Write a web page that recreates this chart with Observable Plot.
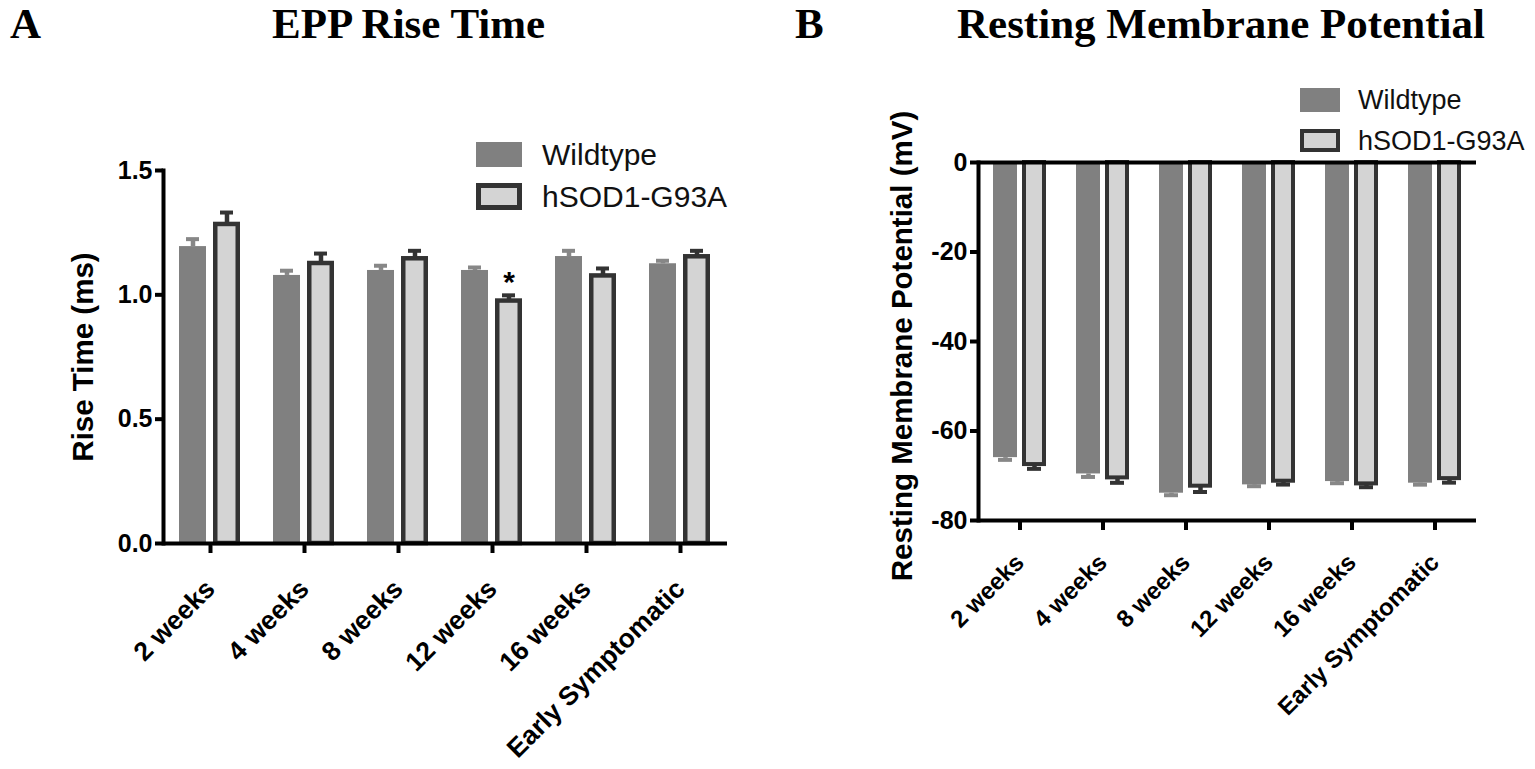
<!DOCTYPE html>
<html>
<head>
<meta charset="utf-8">
<script src="https://cdn.jsdelivr.net/npm/d3@7"></script>
<script src="https://cdn.jsdelivr.net/npm/@observablehq/plot@0.6"></script>
<style>
  html, body { margin: 0; padding: 0; background: #fff; }
  #root { position: relative; width: 1535px; height: 769px; overflow: hidden; background: #fff; }
  .abs { position: absolute; white-space: nowrap; }
  .title { font-family: "Liberation Serif", "Times New Roman", serif; font-weight: bold; font-size: 43px; line-height: 48px; color: #000; }
  .ylab { font-family: "Liberation Sans", Arial, sans-serif; font-weight: bold; font-size: 29.5px; line-height: 34px; color: #000; transform: translate(-50%, -50%) rotate(-90deg); }
  .leg { font-family: "Liberation Sans", Arial, sans-serif; color: #111; display: flex; align-items: center; }
  .sw { box-sizing: border-box; flex: none; }
  .panel { position: absolute; top: 60px; }
</style>
</head>
<body>
<div id="root"></div>
<script>
// ---------------- data ----------------
const categories = ["2 weeks", "4 weeks", "8 weeks", "12 weeks", "16 weeks", "Early Symptomatic"];
const groups = ["Wildtype", "hSOD1-G93A"];

// Panel A: EPP rise time (ms), mean and SEM
const riseWT    = [1.194, 1.078, 1.098, 1.098, 1.154, 1.125];
const riseWTsem = [0.030, 0.019, 0.019, 0.012, 0.023, 0.012];
const riseHS    = [1.283, 1.126, 1.145, 0.975, 1.076, 1.153];
const riseHSsem = [0.048, 0.040, 0.032, 0.023, 0.030, 0.024];
const riseSig   = ["", "", "", "*", "", ""];
const riseTicks = [0, 0.5, 1.0, 1.5];

// Panel B: resting membrane potential (mV), mean and SEM
const rmpWT    = [-65.95, -69.6, -73.9, -72.04, -71.3, -71.66];
const rmpWTsem = [0.5, 0.67, 0.45, 0.3, 0.37, 0.33];
const rmpHS    = [-67.5, -70.48, -72.33, -71.22, -71.82, -70.64];
const rmpHSsem = [0.96, 1.1, 1.3, 0.75, 0.74, 0.9];
const rmpTicks = [0, -20, -40, -60, -80];

// ---------------- helpers ----------------
const WT_FILL = "#808080", WT_ERR = "#878787", HS_FILL = "#d4d4d4", HS_STROKE = "#333333";

function rows(means, sems, group, dir, sig) {
  return categories.map((cat, i) => ({
    cat, group, mean: means[i], sem: sems[i],
    end: means[i] + dir * sems[i],
    sig: sig ? sig[i] : ""
  }));
}

function panel(cfg) {
  const wt = rows(cfg.wt, cfg.wtSem, groups[0], cfg.dir);
  const hs = rows(cfg.hs, cfg.hsSem, groups[1], cfg.dir, cfg.sig);
  const f = {fx: "cat", x: "group"};
  const marks = [
    Plot.ruleX(wt, {...f, y1: "mean", y2: "end", stroke: WT_ERR, strokeWidth: 4.5}),
    Plot.tickY(wt, {...f, y: "end", stroke: WT_ERR, strokeWidth: 4, insetLeft: cfg.capInset, insetRight: cfg.capInset}),
    Plot.barY(wt, {...f, y: "mean", fill: WT_FILL}),
    Plot.ruleX(hs, {...f, y1: "mean", y2: "end", stroke: HS_STROKE, strokeWidth: 4.5}),
    Plot.tickY(hs, {...f, y: "end", stroke: HS_STROKE, strokeWidth: 4, insetLeft: cfg.capInset, insetRight: cfg.capInset}),
    Plot.barY(hs, {...f, y: "mean", fill: HS_FILL, stroke: HS_STROKE, strokeWidth: cfg.hsStroke,
      insetLeft: cfg.hsStroke / 2, insetRight: cfg.hsStroke / 2}),
    Plot.text(hs.filter(d => d.sig), {...f, y: "end", text: "sig", lineAnchor: "bottom", dy: -3, fontSize: 30, fill: "#000"}),
    ...cfg.lines.map(v => Plot.ruleY([v], {stroke: "#000", strokeWidth: 4})),
    Plot.frame({anchor: "left", stroke: "#000", strokeWidth: 4, strokeLinecap: "square", facetAnchor: "left"}),
    Plot.axisY({ticks: cfg.ticks, tickFormat: cfg.tickFormat, tickSize: 8, tickPadding: 3, strokeWidth: 4, label: null, fontSize: 25, fontWeight: "bold"}),
    Plot.axisFx({anchor: "bottom", tickSize: 10, tickPadding: cfg.labelPad, strokeWidth: 4, tickRotate: -45, label: null, fontSize: cfg.labelSize, fontWeight: "bold"})
  ];
  return Plot.plot({
    width: cfg.width, height: cfg.height,
    marginLeft: cfg.ml, marginRight: cfg.mr, marginTop: cfg.mt, marginBottom: cfg.mb,
    fx: {domain: categories, padding: 0, label: null},
    x: {domain: groups, paddingInner: cfg.pIn, paddingOuter: cfg.pOut, axis: null},
    y: {domain: cfg.domain, axis: null},
    style: {fontFamily: "'Liberation Sans', Arial, sans-serif", fontWeight: "bold", fontSize: "24px", color: "#000", background: "transparent", overflow: "visible"},
    marks
  });
}

const root = document.getElementById("root");
function addDiv(cls, text, css) {
  const d = document.createElement("div");
  d.className = "abs " + cls;
  d.textContent = text;
  Object.assign(d.style, css);
  root.appendChild(d);
  return d;
}
function legendRow(x, cy, h, w, sh, border, fontSize, gap, label, fill) {
  const row = document.createElement("div");
  row.className = "abs leg";
  Object.assign(row.style, {left: x + "px", top: (cy - h / 2) + "px", height: h + "px", fontSize: fontSize + "px", lineHeight: h + "px"});
  const sw = document.createElement("div");
  sw.className = "sw";
  Object.assign(sw.style, {width: w + "px", height: sh + "px", background: fill, border: border, marginRight: gap + "px"});
  const t = document.createElement("span");
  t.textContent = label;
  row.appendChild(sw); row.appendChild(t);
  root.appendChild(row);
}

// ---------------- Panel A ----------------
const svgA = panel({
  width: 760, height: 709, ml: 163, mr: 33, mt: 110, mb: 226,
  pIn: 0.2, pOut: 0.443, domain: [0, 1.5], ticks: riseTicks, tickFormat: d3.format(".1f"),
  wt: riseWT, wtSem: riseWTsem, hs: riseHS, hsSem: riseHSsem, sig: riseSig, dir: 1,
  capInset: 7, hsStroke: 4.5, lines: [0], labelPad: 31, labelSize: 26.5
});
svgA.classList.add("panel");
svgA.style.left = "0px";
root.appendChild(svgA);

// ---------------- Panel B ----------------
const svgB = panel({
  width: 775, height: 709, ml: 217, mr: 58, mt: 102, mb: 249,
  pIn: 0.1667, pOut: 0.472, domain: [-80, 0], ticks: rmpTicks, tickFormat: d => String(d),
  wt: rmpWT, wtSem: rmpWTsem, hs: rmpHS, hsSem: rmpHSsem, dir: -1,
  capInset: 5, hsStroke: 4, lines: [0, -80], labelPad: 28, labelSize: 24
});
svgB.classList.add("panel");
svgB.style.left = "760px";
root.appendChild(svgB);

// ---------------- text ----------------
addDiv("title", "A", {left: "10px", top: "0px"});
addDiv("title", "EPP Rise Time", {left: "272px", top: "0px"});
addDiv("title", "B", {left: "795px", top: "0px"});
addDiv("title", "Resting Membrane Potential", {left: "957px", top: "0px"});
addDiv("ylab", "Rise Time (ms)", {left: "83px", top: "357px"});
addDiv("ylab", "Resting Membrane Potential (mV)", {left: "902px", top: "346px"});

legendRow(476, 154.5, 34, 46, 25, "none", 30, 20, groups[0], WT_FILL);
legendRow(476, 196.5, 34, 46, 27, "5px solid " + HS_STROKE, 30, 20, groups[1], HS_FILL);
legendRow(1300, 100, 30, 40, 24, "none", 27, 18, groups[0], WT_FILL);
legendRow(1300, 140.5, 30, 40, 23, "4.5px solid " + HS_STROKE, 27, 18, groups[1], HS_FILL);
</script>
</body>
</html>
